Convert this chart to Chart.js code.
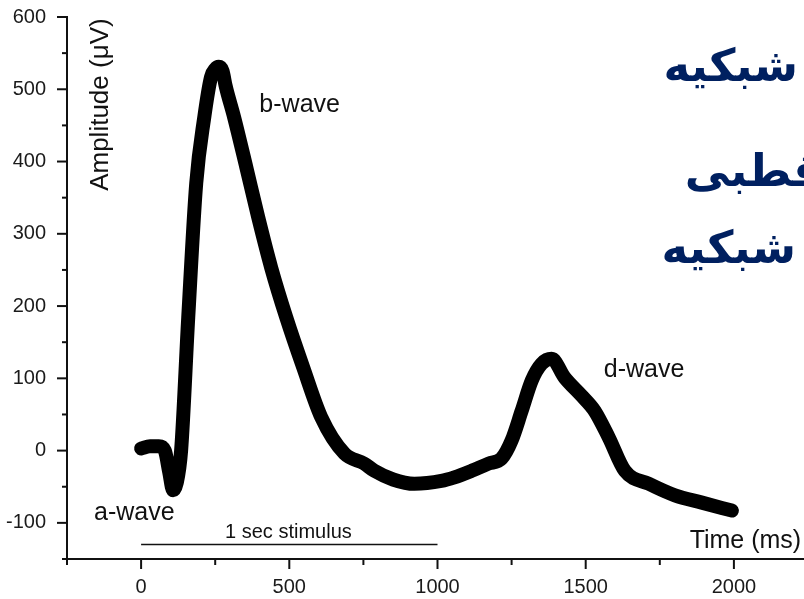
<!DOCTYPE html>
<html>
<head>
<meta charset="utf-8">
<script src="https://cdn.jsdelivr.net/npm/chart.js@4/dist/chart.umd.min.js"></script>
<style>
  html, body { margin: 0; padding: 0; background: #fff; overflow: hidden; }
  #wrap { position: relative; width: 816px; height: 599px; overflow: hidden; }
  #chart { position: absolute; left: 0; top: -8px; }
</style>
</head>
<body>
<div id="wrap"><canvas id="chart" width="816" height="607"></canvas></div>
<script>
// ERG trace: time in ms, amplitude in µV
const times = [0, 30, 60, 80, 95, 108, 120, 135, 159, 186, 213, 236, 250, 262, 275, 285, 314, 355, 395, 439, 490, 547, 608, 686, 753, 787, 850, 922, 1013, 1057, 1115, 1172, 1216, 1250, 1284, 1318, 1351, 1385, 1429, 1486, 1530, 1578, 1632, 1713, 1801, 1892, 1993];
const amps  = [3, 6, 6, 0, -30, -55, -45, 0, 184, 370, 461, 517, 528, 531, 525, 505, 461, 392, 323, 253, 184, 115, 46, -4, -18, -28, -40, -46, -42, -37, -28, -18, -11, 14, 55, 97, 120, 127, 101, 76, 55, 18, -28, -46, -62, -72, -83];
const stimTimes = [0, 1000];
const stimAmps = [-130, -130];
const xMin = -250, xMax = 2250, yMin = -150, yMax = 600;

const font = "'Liberation Sans', Arial, sans-serif";

const decor = {
  id: "decor",
  afterDraw(c) {
    const ctx = c.ctx, x = c.scales.x, y = c.scales.y;
    ctx.save();
    ctx.strokeStyle = "#111";
    ctx.lineWidth = 2;
    // tick marks (major / minor)
    for (let v = yMin; v <= yMax; v += 50) {
      const p = y.getPixelForValue(v);
      const len = v % 100 === 0 ? 10 : 5;
      ctx.beginPath(); ctx.moveTo(x.left - len, p); ctx.lineTo(x.left, p); ctx.stroke();
    }
    for (let v = xMin; v <= xMax; v += 250) {
      const p = x.getPixelForValue(v);
      const len = v % 500 === 0 ? 10 : 6;
      ctx.beginPath(); ctx.moveTo(p, y.bottom); ctx.lineTo(p, y.bottom + len); ctx.stroke();
    }
    // wave labels
    ctx.fillStyle = "#111";
    ctx.textBaseline = "middle";
    ctx.font = "25px " + font;
    ctx.textAlign = "left";
    ctx.fillText("a-wave", x.getPixelForValue(-159), y.getPixelForValue(-87));
    ctx.fillText("b-wave", x.getPixelForValue(399), y.getPixelForValue(478));
    ctx.fillText("d-wave", x.getPixelForValue(1561), y.getPixelForValue(111));
    ctx.font = "20px " + font;
    ctx.textAlign = "center";
    ctx.fillText("1 sec stimulus", x.getPixelForValue(497), y.getPixelForValue(-114));
    ctx.font = "25px " + font;
    ctx.textAlign = "right";
    ctx.fillText("Time (ms)", x.getPixelForValue(2227), y.getPixelForValue(-125));
    // y axis title inside plot
    ctx.save();
    ctx.translate(101, y.getPixelForValue(0) - 346);
    ctx.rotate(-Math.PI / 2);
    ctx.textAlign = "center";
    ctx.font = "26px " + font;
    ctx.fillText("Amplitude (\u03BCV)", 0, 0);
    ctx.restore();
    // slide overlay text
    const off = y.getPixelForValue(600) - 16;
    ctx.fillStyle = "#002060";
    ctx.font = "bold 45px 'DejaVu Sans', sans-serif";
    ctx.direction = "rtl";
    ctx.textAlign = "right";
    ctx.textBaseline = "alphabetic";
    ctx.fillText("شبکیه", 798, 80 + off);
    ctx.fillText("قطبی", 822, 185 + off);
    ctx.fillText("شبکیه", 796, 262 + off);
    ctx.restore();
  }
};

new Chart(document.getElementById("chart"), {
  type: "line",
  data: {
    datasets: [
      {
        data: times.map((t, i) => ({ x: t, y: amps[i] })),
        borderColor: "#000",
        borderWidth: 14,
        borderCapStyle: "round",
        borderJoinStyle: "round",
        cubicInterpolationMode: "monotone",
        pointRadius: 0,
        fill: false,
      },
      {
        data: stimTimes.map((t, i) => ({ x: t, y: stimAmps[i] })),
        borderColor: "#111",
        borderWidth: 1.5,
        pointRadius: 0,
        fill: false,
      },
    ],
  },
  options: {
    responsive: false,
    animation: false,
    layout: { padding: { top: 5, right: 0, left: 0, bottom: 0 } },
    plugins: { legend: { display: false }, tooltip: { enabled: false } },
    scales: {
      x: {
        type: "linear",
        min: xMin, max: xMax,
        grid: { display: false },
        border: { display: true, color: "#111", width: 2 },
        ticks: {
          stepSize: 250,
          autoSkip: false,
          maxRotation: 0,
          padding: 8,
          color: "#1a1a1a",
          font: { family: font, size: 20 },
          callback: (v) => (v % 500 === 0 && v >= 0 ? v : ""),
        },
        afterFit: (s) => { s.height = 40; },
      },
      y: {
        min: yMin, max: yMax,
        grid: { display: false },
        border: { display: true, color: "#111", width: 2 },
        ticks: {
          stepSize: 50,
          autoSkip: false,
          padding: 13,
          color: "#1a1a1a",
          font: { family: font, size: 20 },
          callback: (v) => (v % 100 === 0 ? v : ""),
        },
        afterFit: (s) => { s.width = 67; },
      },
    },
  },
  plugins: [decor],
});
</script>
</body>
</html>
